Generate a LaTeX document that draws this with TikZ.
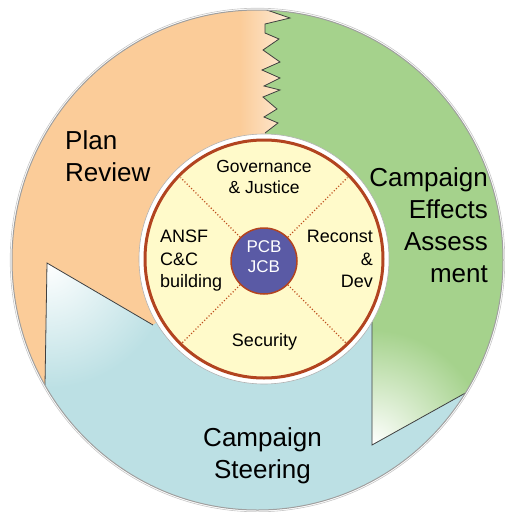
\documentclass[tikz,border=0pt]{standalone}
\usepackage{fontspec}
\setmainfont{Liberation Sans}
\definecolor{orangeC}{RGB}{251,204,153}
\definecolor{greenC}{RGB}{165,210,140}
\definecolor{blueC}{RGB}{188,224,228}
\definecolor{yellowC}{RGB}{255,250,202}
\definecolor{brownC}{RGB}{178,68,32}
\definecolor{pcbC}{RGB}{90,90,165}
\tikzset{
  bigtext/.style={font=\fontsize{26}{32}\selectfont, inner sep=0pt},
  smalltext/.style={font=\fontsize{18}{22.5}\selectfont, inner sep=0pt},
  edgeline/.style={draw=black!75, line width=0.8pt},
  divider/.style={draw=brownC!85!orange, line width=1.1pt, dotted},
}
\def\greenpath{(261,-20) -- (560,-20) -- (560,340) -- (478,386) -- (372,445) -- (372,259) -- (265,259) -- (265,150) -- (265,133) -- (278,123) -- (264,117) -- (277,109) -- (263,97) -- (280,90) -- (264,86) -- (280,78) -- (262,70) -- (280,62) -- (263,50) -- (279,39) -- (265,33) -- (265,24) -- (290,18) -- (261,8) -- cycle}
\def\bluepath{(560,340) -- (478,386) -- (372,445) -- (372,259) -- (265,259) -- (153,325) -- (47,263) -- (45,385) -- (44,560) -- (560,560) -- cycle}
\begin{document}
\begin{tikzpicture}[x=1pt,y=-1pt]
\useasboundingbox (0,0) rectangle (505,512);
\begin{scope}
  \clip (257.5,260) ellipse [x radius=245.5pt, y radius=250pt];
  \fill[orangeC] (0,0) rectangle (505,512);
  \shade[left color=orangeC, right color=orangeC!35!white] (240,-20) rectangle (292,150);
  \fill[greenC] \greenpath;
  \begin{scope}
    \clip \greenpath;
    \shade[inner color=white, outer color=greenC] (372,445) circle [radius=115pt];
  \end{scope}
  \fill[blueC] \bluepath;
  \begin{scope}
    \clip \bluepath;
    \shade[inner color=white, outer color=blueC] (47,263) circle [radius=125pt];
  \end{scope}
  \draw[edgeline] (261,8) -- (290,18) -- (265,24) -- (265,33) -- (279,39) -- (263,50) -- (280,62) -- (262,70) -- (280,78) -- (264,86) -- (280,90) -- (263,97) -- (277,109) -- (264,117) -- (278,123) -- (265,133);
  \draw[edgeline] (153,325) -- (47,263) -- (45,385);
  \draw[edgeline] (372,322) -- (372,445) -- (478,386);
\end{scope}
\draw[gray!45, line width=0.6pt] (257.5,260) ellipse [x radius=247.3pt, y radius=251.8pt];
\draw[gray!75, line width=1pt] (257.5,260) ellipse [x radius=245.5pt, y radius=250pt];
% inner disk
\node[circle, fill=white, draw=gray!60, line width=0.6pt, minimum size=250pt, inner sep=0pt] (ring) at (264,259) {};
\node[circle, fill=yellowC, draw=brownC, line width=3pt, minimum size=238pt, inner sep=0pt] (core) at (264,259) {};
\node[circle, fill=pcbC, draw=brownC, line width=1.5pt, minimum size=66pt, inner sep=0pt] (pcb) at (264,261) {};
\coordinate (dnw) at (180.6,177.6);
\coordinate (dne) at (347.4,177.6);
\coordinate (dsw) at (180.6,344.4);
\coordinate (dse) at (347.4,344.4);
\draw[divider] (pcb.north west) -- (dnw);
\draw[divider] (pcb.north east) -- (dne);
\draw[divider] (pcb.south west) -- (dsw);
\draw[divider] (pcb.south east) -- (dse);
% texts
\node[bigtext, align=left, anchor=north west] (plan) at (65,130) {Plan\\Review};
\node[bigtext, align=right, anchor=north east] (cea) at (488,167) {Campaign\\Effects\\Assess\\ment};
\node[bigtext, align=center, anchor=north] (steer) at (262.5,427) {Campaign\\Steering};
\node[smalltext, font=\fontsize{17.5}{21}\selectfont, align=center, anchor=north] (gov) at (264,160) {Governance\\\& Justice};
\node[smalltext, align=left, anchor=north west] (ansf) at (160,230) {ANSF\\C\&C\\building};
\node[smalltext, align=right, anchor=north east] (rec) at (373,230) {Reconst\\\&\\Dev};
\node[smalltext, align=center, anchor=north] (sec) at (264.5,333) {Security};
\node[smalltext, font=\fontsize{17}{20.5}\selectfont, align=center, anchor=north, text=white] (pcbt) at (264,240) {PCB\\JCB};
\end{tikzpicture}
\end{document}
